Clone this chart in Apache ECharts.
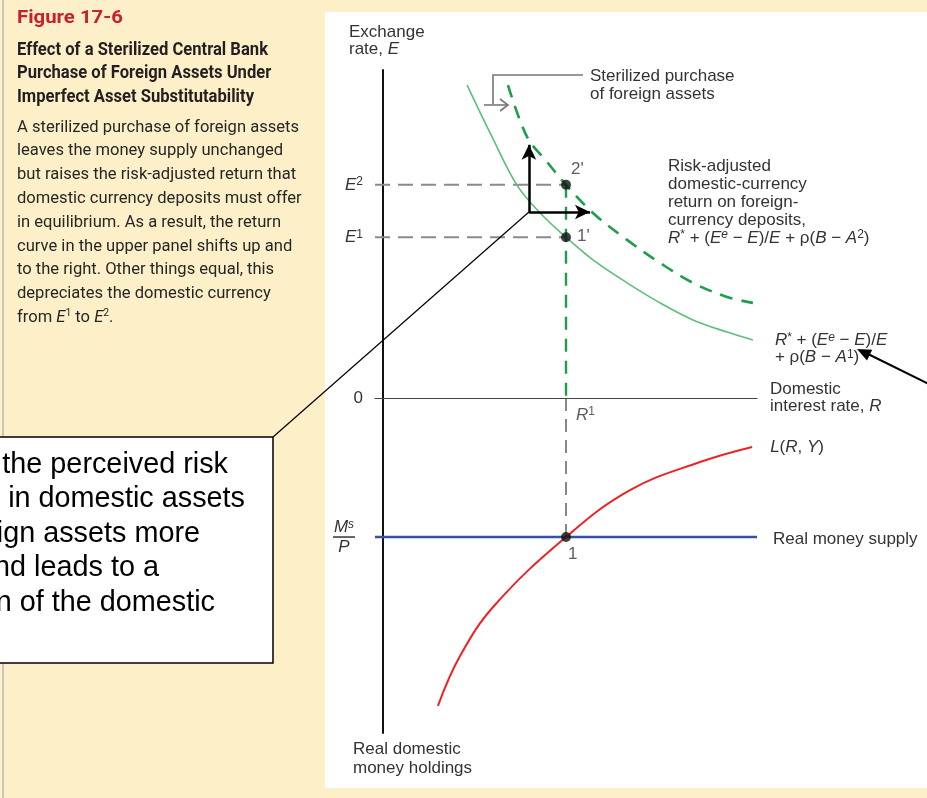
<!DOCTYPE html>
<html>
<head>
<meta charset="utf-8">
<script src="https://cdn.jsdelivr.net/npm/echarts@6/dist/echarts.min.js"></script>
<style>
  html, body { margin: 0; padding: 0; background: #fdf0c9; }
  #chart { width: 927px; height: 798px; }
</style>
</head>
<body>
<div id="chart"></div>
<script>
// ---- Model values -------------------------------------------------------
// Horizontal axis: domestic interest rate R (shared by both panels)
const rateRange = [-2, 100];
// Vertical ranges: exchange rate E (upper), real money holdings (lower, downward)
const exchangeRange = [0, 100];
const moneyRange = [0, 100];

const R1 = 49;               // equilibrium interest rate R^1
const E1 = 49;               // exchange rate before the sterilized purchase
const E2 = 65;               // exchange rate after the sterilized purchase
const realMoneySupply = 41.5; // M^s / P

// Risk-adjusted return on foreign-currency deposits, risk premium with A^1
const returnR = [22.6, 29.0, 35.9, 42.1, 49, 56.2, 65.3, 74.1, 82.9, 92.0, 98.9];
const returnE = [95.4, 80.2, 64.9, 56.4, 49, 42.1, 35.1, 29.0, 23.8, 20.1, 17.7];
// Same schedule after the purchase, risk premium with A^2
const shiftedR = [33.5, 38.6, 43.7, 49, 56.2, 65.3, 74.1, 82.9, 92.0, 98.9];
const shiftedE = [95.4, 79.6, 72.3, 65, 56.4, 48.2, 41.2, 35.1, 30.8, 29.0];
// Aggregate real money demand L(R, Y)
const demandR = [14.8, 20.7, 30.0, 49, 66.1, 84.8, 98.7];
const demandM = [91.9, 77.0, 61.8, 41.5, 27.5, 19.1, 14.6];

// Shift arrows (origin, top of the up arrow, end of the right arrow)
const shiftOrigin = [39.1, 56.7];
const shiftUpTo = 77.2;
const shiftRightTo = 55.4;

// ---- Text -------------------------------------------------------------
const figureNumber = 'Figure 17-6';
const titleLines = [
  'Effect of a Sterilized Central Bank',
  'Purchase of Foreign Assets Under',
  'Imperfect Asset Substitutability'
];
const captionLines = [
  'A sterilized purchase of foreign assets',
  'leaves the money supply unchanged',
  'but raises the risk-adjusted return that',
  'domestic currency deposits must offer',
  'in equilibrium. As a result, the return',
  'curve in the upper panel shifts up and',
  'to the right. Other things equal, this',
  'depreciates the domestic currency',
  'from {ci|E}{cs|1} to {ci|E}{cs|2}.'
];
const calloutLines = [
  'An increase in the perceived risk',
  'of investing in domestic assets',
  'makes foreign assets more',
  'attractive and leads to a',
  'depreciation of the domestic'
];
const calloutLast = 'currency.';

// ---- Styling helpers ----------------------------------------------------
const FONT = '"Liberation Sans", Arial, Helvetica, sans-serif';
const INK = '#333333';
const zip = (xs, ys) => xs.map((x, k) => [x, ys[k]]);

function richSet(size, lh) {
  const s = Math.round(size * 0.68);
  return {
    n:    { fontFamily: FONT, fontSize: size, color: INK, fill: INK, lineHeight: lh },
    i:    { fontFamily: FONT, fontSize: size, fontStyle: 'italic', color: INK, fill: INK, lineHeight: lh },
    sup:  { fontFamily: FONT, fontSize: s, color: INK, fill: INK, lineHeight: s, verticalAlign: 'top' },
    isup: { fontFamily: FONT, fontSize: s, fontStyle: 'italic', color: INK, fill: INK, lineHeight: s, verticalAlign: 'top' }
  };
}
const rich17 = richSet(17, 18);
const labelBase = { fontFamily: FONT, fontSize: 17, color: INK };

const fracRich = {
  m:   { fontFamily: FONT, fontSize: 17, fontStyle: 'italic', color: INK, lineHeight: 16 },
  s:   { fontFamily: FONT, fontSize: 12, fontStyle: 'italic', color: INK, lineHeight: 11, verticalAlign: 'top' },
  bar: { width: 22, height: 1.5, lineHeight: 4, backgroundColor: '#333' },
  p:   { fontFamily: FONT, fontSize: 17, fontStyle: 'italic', color: INK, lineHeight: 16 }
};

const option = {
  animation: false,
  backgroundColor: '#fdf0c9',
  textStyle: { fontFamily: FONT },
  grid: [
    { left: 375, right: 170, top: 70, bottom: 400 },
    { left: 375, right: 170, top: 398, bottom: 65 }
  ],
  xAxis: [
    {
      gridIndex: 0, type: 'value', min: rateRange[0], max: rateRange[1],
      axisLine: { show: true, onZero: true, lineStyle: { color: '#444', width: 1.2 } },
      axisTick: { show: false }, axisLabel: { show: false }, splitLine: { show: false },
      name: 'Domestic\ninterest rate, {i|R}', nameLocation: 'end', nameGap: 13,
      nameTextStyle: { fontFamily: FONT, fontSize: 17, color: INK, lineHeight: 17, align: 'left', verticalAlign: 'middle', rich: richSet(17, 17) }
    },
    {
      gridIndex: 1, type: 'value', min: rateRange[0], max: rateRange[1],
      axisLine: { show: false }, axisTick: { show: false }, axisLabel: { show: false }, splitLine: { show: false }
    }
  ],
  yAxis: [
    {
      gridIndex: 0, type: 'value', min: exchangeRange[0], max: exchangeRange[1],
      axisLine: { show: true, onZero: true, lineStyle: { color: '#111', width: 2 } },
      axisTick: { show: false }, splitLine: { show: false },
      axisLabel: {
        customValues: [0, E1, E2], margin: 12, ...labelBase,
        formatter: v => v === 0 ? '{n|0}' : '{i|E}{sup|' + (v === E1 ? 1 : 2) + '}',
        rich: rich17
      }
    },
    {
      gridIndex: 1, type: 'value', min: moneyRange[0], max: moneyRange[1], inverse: true,
      axisLine: { show: true, onZero: true, lineStyle: { color: '#111', width: 2 } },
      axisTick: { show: false }, splitLine: { show: false },
      axisLabel: {
        customValues: [realMoneySupply], margin: 31, align: 'center', ...labelBase,
        formatter: () => '{m|M}{s|s}\n{bar|}\n{p|P}',
        rich: fracRich
      }
    }
  ],
  series: [
    {
      name: 'return A1', type: 'line', xAxisIndex: 0, yAxisIndex: 0,
      data: zip(returnR, returnE), smooth: 0.35, showSymbol: false, symbol: 'none',
      lineStyle: { color: '#5cbf7a', width: 1.6 }, z: 3,
      endLabel: {
        show: true, distance: 22, offset: [0, 9], ...labelBase, lineHeight: 17,
        formatter: () => '{i|R}{sup|*} + ({i|E}{isup|e} \u2212 {i|E})/{i|E}\n+ \u03c1({i|B} \u2212 {i|A}{sup|1})',
        rich: richSet(17, 17)
      }
    },
    {
      name: 'return A2', type: 'line', xAxisIndex: 0, yAxisIndex: 0,
      data: zip(shiftedR, shiftedE), smooth: 0.35, showSymbol: false, symbol: 'none',
      lineStyle: { color: '#1f9d4c', width: 2.6, type: [13, 9] }, z: 3
    },
    {
      name: 'E2 guide', type: 'line', xAxisIndex: 0, yAxisIndex: 0,
      data: [[rateRange[0], E2], [R1, E2]], showSymbol: false, symbol: 'none',
      lineStyle: { color: '#8a8a8a', width: 2, type: [15, 8] }, z: 2
    },
    {
      name: 'E1 guide', type: 'line', xAxisIndex: 0, yAxisIndex: 0,
      data: [[rateRange[0], E1], [R1, E1]], showSymbol: false, symbol: 'none',
      lineStyle: { color: '#8a8a8a', width: 2, type: [15, 8] }, z: 2,
      markLine: {
        silent: true, symbol: ['none', 'arrow'], symbolSize: [11, 15],
        label: { show: false },
        lineStyle: { color: '#000', width: 2.5, type: 'solid' },
        emphasis: { disabled: true },
        data: [
          [{ coord: shiftOrigin }, { coord: [shiftOrigin[0], shiftUpTo] }],
          [{ coord: shiftOrigin }, { coord: [shiftRightTo, shiftOrigin[1]] }]
        ]
      }
    },
    {
      name: 'R1 drop', type: 'line', xAxisIndex: 0, yAxisIndex: 0,
      data: [[R1, E2], [R1, 0]], showSymbol: false, symbol: 'none',
      lineStyle: { color: '#1f9d4c', width: 2.4, type: [13, 9] }, z: 3
    },
    {
      name: 'asset market points', type: 'scatter', xAxisIndex: 0, yAxisIndex: 0,
      symbolSize: 10, itemStyle: { color: '#111' }, z: 6,
      data: [
        { value: [R1, E2], label: { show: true, formatter: "2'", position: [10, -19], ...labelBase } },
        { value: [R1, E1], label: { show: true, formatter: "1'", position: [16, -4], ...labelBase } }
      ]
    },
    {
      name: 'R1 label', type: 'scatter', xAxisIndex: 0, yAxisIndex: 0,
      symbolSize: 10, itemStyle: { color: 'rgba(0,0,0,0)' }, z: 6,
      data: [{ value: [R1, 0], label: { show: true, formatter: '{i|R}{sup|1}', position: [15, 13], ...labelBase, rich: rich17 } }]
    },
    {
      name: 'Real money supply', type: 'line', xAxisIndex: 1, yAxisIndex: 1,
      data: [[rateRange[0], realMoneySupply], [rateRange[1], realMoneySupply]], showSymbol: false, symbol: 'none',
      lineStyle: { color: '#3352a8', width: 2.5 }, z: 3,
      endLabel: { show: true, distance: 16, offset: [0, 2], formatter: 'Real money supply', ...labelBase }
    },
    {
      name: 'R1 money', type: 'line', xAxisIndex: 1, yAxisIndex: 1,
      data: [[R1, 0], [R1, realMoneySupply]], showSymbol: false, symbol: 'none',
      lineStyle: { color: '#555', width: 1.4, type: [13, 8] }, z: 2
    },
    {
      name: 'L(R, Y)', type: 'line', xAxisIndex: 1, yAxisIndex: 1,
      data: zip(demandR, demandM), smooth: 0.4, showSymbol: false, symbol: 'none',
      lineStyle: { color: '#ee2222', width: 2 }, z: 4,
      endLabel: { show: true, distance: 18, ...labelBase, formatter: () => '{i|L}({i|R}, {i|Y})', rich: richSet(17, 18) }
    },
    {
      name: 'money market point', type: 'scatter', xAxisIndex: 1, yAxisIndex: 1,
      symbolSize: 10, itemStyle: { color: '#111' }, z: 6,
      data: [{ value: [R1, realMoneySupply], label: { show: true, formatter: '1', position: [7, 14], ...labelBase } }]
    }
  ]
};

const chart = echarts.init(document.getElementById('chart'), null, { renderer: 'canvas' });
chart.setOption(option);

// ---- Annotations in screen space ------------------------------------------
function fitScale(text, font, target) {
  const ctx = document.createElement('canvas').getContext('2d');
  ctx.font = font;
  return target / ctx.measureText(text).width;
}

function arrowHead(x1, y1, x2, y2, len, half, color) {
  const d = Math.hypot(x2 - x1, y2 - y1);
  const ux = (x2 - x1) / d, uy = (y2 - y1) / d;
  const bx = x2 - ux * len, by = y2 - uy * len;
  return {
    type: 'polygon',
    shape: { points: [[x2, y2], [bx - uy * half, by + ux * half], [bx + uy * half, by - ux * half]] },
    style: { fill: color }, z: 20
  };
}

function txt(x, y, text, extra) {
  return Object.assign({
    type: 'text', x, y, z: 20,
    style: Object.assign({
      text, fill: INK, fontFamily: FONT, fontSize: 17,
      align: 'left', textAlign: 'left', verticalAlign: 'top', textVerticalAlign: 'top'
    }, extra && extra.style)
  }, extra && extra.props);
}

const graphics = [];
// white figure panel
graphics.push({ type: 'rect', z: -10, shape: { x: 325, y: 12, width: 620, height: 776 }, style: { fill: '#ffffff' } });
// page rule at far left
graphics.push({ type: 'line', z: 1, shape: { x1: 3, y1: 0, x2: 3, y2: 798 }, style: { stroke: '#c8c5bd', lineWidth: 2 } });

// figure number, title and caption
const figFont = '700 19px Roboto, "Liberation Sans", sans-serif';
graphics.push({
  type: 'text', x: 17, y: 18, z: 20, scaleX: fitScale(figureNumber, figFont, 106),
  style: { text: figureNumber, font: figFont, fill: '#c8202f', align: 'left', textAlign: 'left', verticalAlign: 'middle', textVerticalAlign: 'middle' }
});
const titleFont = '700 18px Roboto, "Liberation Sans", sans-serif';
const titleScale = fitScale(titleLines[0], titleFont, 251);
titleLines.forEach((t, k) => graphics.push({
  type: 'text', x: 17, y: 50 + k * 23.6, z: 20, scaleX: titleScale,
  style: { text: t, font: titleFont, fill: '#231f20', align: 'left', textAlign: 'left', verticalAlign: 'middle', textVerticalAlign: 'middle' }
}));
const capFamily = 'Roboto, "Liberation Sans", sans-serif';
const capScale = fitScale(captionLines[0], '16px ' + capFamily, 282);
captionLines.forEach((t, k) => graphics.push({
  type: 'text', x: 17, y: 127.5 + k * 23.8, z: 20, scaleX: capScale,
  style: {
    text: t, fontFamily: capFamily, fontSize: 16, fill: '#262626', lineHeight: 18,
    align: 'left', textAlign: 'left', verticalAlign: 'middle', textVerticalAlign: 'middle',
    rich: {
      ci: { fontFamily: capFamily, fontSize: 16, fontStyle: 'italic', fill: '#262626', lineHeight: 18 },
      cs: { fontFamily: capFamily, fontSize: 10, fill: '#262626', lineHeight: 10, verticalAlign: 'top' }
    }
  }
}));

// callout box
graphics.push({ type: 'rect', z: 15, shape: { x: -300, y: 437, width: 573, height: 226 }, style: { fill: '#ffffff', stroke: '#000', lineWidth: 1.5 } });
const calloutRight = [228, 245, 200, 159, 215];
calloutLines.forEach((t, k) => graphics.push({
  type: 'text', x: calloutRight[k], y: 465 + k * 34.5, z: 20,
  style: { text: t, fontFamily: FONT, fontSize: 28.8, fill: '#000', align: 'right', textAlign: 'right', verticalAlign: 'middle', textVerticalAlign: 'middle' }
}));
graphics.push({
  type: 'text', x: -190, y: 465 + 5 * 34.5, z: 20,
  style: { text: calloutLast, fontFamily: FONT, fontSize: 28.8, fill: '#000', align: 'left', textAlign: 'left', verticalAlign: 'middle', textVerticalAlign: 'middle' }
});
const o = chart.convertToPixel({ gridIndex: 0 }, shiftOrigin);
graphics.push({ type: 'line', z: 14, shape: { x1: 273, y1: 437, x2: o[0], y2: o[1] }, style: { stroke: '#000', lineWidth: 1.2 } });

// axis captions and curve notes
graphics.push(txt(349, 23.5, 'Exchange\nrate, {i|E}', { style: { lineHeight: 17, rich: richSet(17, 17) } }));
graphics.push(txt(353, 740, 'Real domestic\nmoney holdings', { style: { lineHeight: 19 } }));
graphics.push(txt(590, 67, 'Sterilized purchase\nof foreign assets', { style: { lineHeight: 18 } }));
graphics.push(txt(668, 157,
  'Risk-adjusted\ndomestic-currency\nreturn on foreign-\ncurrency deposits,\n{i|R}{sup|*} + ({i|E}{isup|e} \u2212 {i|E})/{i|E} + \u03c1({i|B} \u2212 {i|A}{sup|2})',
  { style: { lineHeight: 18, rich: rich17 } }));

// bracket pointing at the shifted schedule
graphics.push({ type: 'polyline', z: 12, shape: { points: [[583, 75], [493, 75], [493, 104]] }, style: { stroke: '#777', lineWidth: 1.6, fill: null } });
graphics.push({ type: 'line', z: 12, shape: { x1: 484, y1: 105, x2: 508, y2: 105 }, style: { stroke: '#777', lineWidth: 1.6 } });
graphics.push({ type: 'polyline', z: 12, shape: { points: [[500, 99], [508, 105], [500, 111]] }, style: { stroke: '#777', lineWidth: 1.6, fill: null } });

// arrow from the right margin to the original schedule's label
graphics.push({ type: 'line', z: 20, shape: { x1: 935, y1: 387, x2: 866, y2: 353 }, style: { stroke: '#000', lineWidth: 2 } });
graphics.push(arrowHead(935, 387, 857, 349, 14, 6, '#000'));

chart.setOption({ graphic: { elements: graphics } });
</script>
</body>
</html>
